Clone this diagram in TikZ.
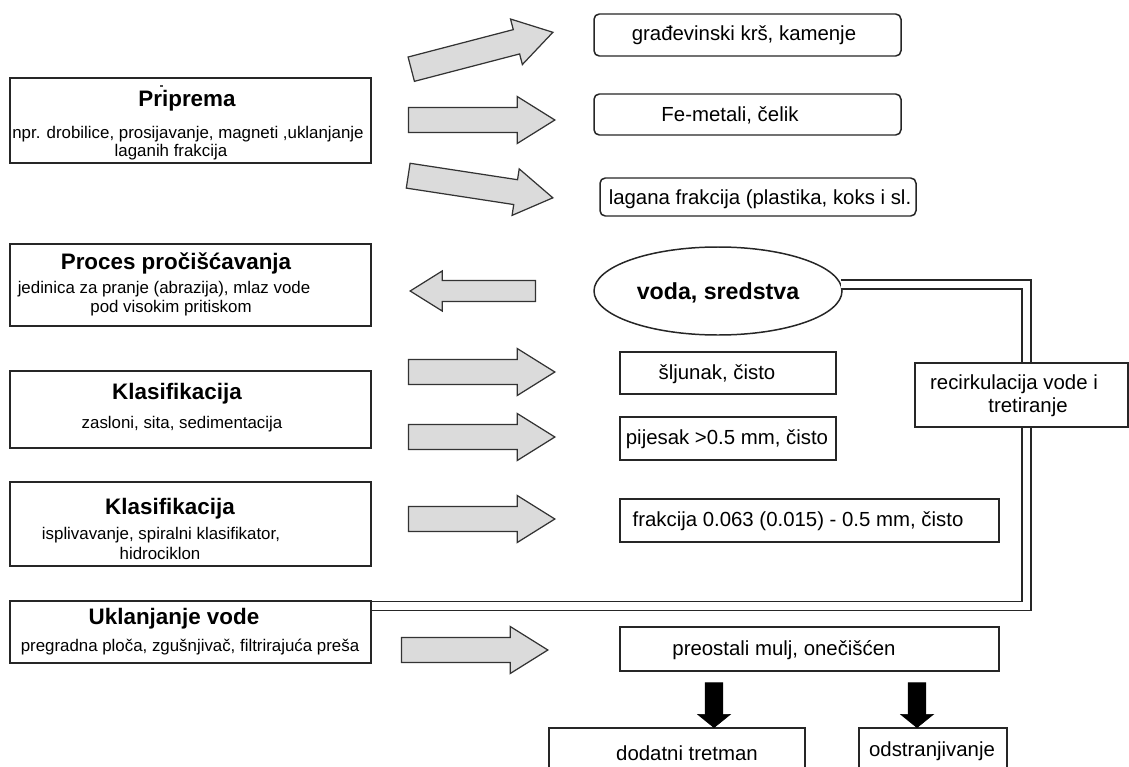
\documentclass[tikz,border=0pt]{standalone}
\usepackage{fontspec}
\setmainfont{Liberation Sans}
\usetikzlibrary{shapes.geometric, shapes.arrows, positioning, calc}
\newlength\pxu
\setlength\pxu{0.02cm}

\begin{document}
\begin{tikzpicture}[x=1\pxu, y=-1\pxu,
  box/.style={draw=black!85, line width=0.85pt, fill=white, inner sep=0pt},
  rbox/.style={box, rounded corners=3pt},
  ttl/.style={font=\fontsize{12.75}{15}\selectfont\bfseries, inner sep=0pt, text height=9.1pt, text depth=0pt},
  sub/.style={font=\fontsize{9.6}{11}\selectfont, inner sep=0pt, text height=6.9pt, text depth=0pt},
  lbl/.style={font=\fontsize{11.6}{13}\selectfont, inner sep=0pt, text height=8.3pt, text depth=0pt},
  fatarrow/.style={single arrow, draw=black!80, fill=gray!28, line width=0.7pt,
    inner xsep=0pt, inner ysep=6.8pt, text height=0pt, text depth=0pt,
    single arrow head extend=6.24pt, single arrow tip angle=64, minimum height=83.3pt, anchor=tip},
  backarrow/.style={fatarrow, inner ysep=5.67pt, single arrow head extend=5.4pt, minimum height=71.4pt, rotate=180},
  downarrow/.style={single arrow, draw=black, fill=black, inner xsep=0pt, inner ysep=4.8pt,
    text height=0pt, text depth=0pt, single arrow head extend=4.25pt, single arrow tip angle=102,
    minimum height=25.5pt, anchor=tip, rotate=-90},
  recirc/.style={draw=black!85, line width=0.85pt, double=white, double distance=4.25pt}
]
  \useasboundingbox (0,0) rectangle (1129,767);

  \node[box, minimum width=361\pxu, minimum height=85\pxu] (prip) at (190.5,120.5) {};
  \node[box, minimum width=361\pxu, minimum height=82\pxu] (proc) at (190.5,285) {};
  \node[box, minimum width=361\pxu, minimum height=77\pxu] (klas1) at (190.5,409.5) {};
  \node[box, minimum width=361\pxu, minimum height=84\pxu] (klas2) at (190.5,524) {};
  \node[box, minimum width=361\pxu, minimum height=62\pxu] (ukl) at (190.5,632) {};

  \fill[black!70] (159.5,85.2) rectangle (162.5,86.8);
  \node[ttl] (pripT) at (187,99) {Priprema};
  \node[sub] (pripA) at (188,132) {npr. drobilice, prosijavanje, magneti ,uklanjanje};
  \node[sub] (pripB) at (171,150) {laganih frakcija};
  \node[ttl] (procT) at (176,262) {Proces pročišćavanja};
  \node[sub] (procA) at (164,287) {jedinica za pranje (abrazija), mlaz vode};
  \node[sub] (procB) at (171,306) {pod visokim pritiskom};
  \node[ttl] (klas1T) at (177,392) {Klasifikacija};
  \node[sub] (klas1A) at (182,422) {zasloni, sita, sedimentacija};
  \node[ttl] (klas2T) at (170,507) {Klasifikacija};
  \node[sub] (klas2A) at (161,533) {isplivavanje, spiralni klasifikator,};
  \node[sub] (klas2B) at (160,553) {hidrociklon};
  \node[ttl] (uklT) at (174,617) {Uklanjanje vode};
  \node[sub] (uklA) at (190,645) {pregradna ploča, zgušnjivač, filtrirajuća preša};

  \node[rbox, minimum width=307\pxu, minimum height=42\pxu] (krs) at (747.5,35) {};
  \node[rbox, minimum width=307\pxu, minimum height=41\pxu] (fe) at (747.5,114.5) {};
  \node[rbox, minimum width=316\pxu, minimum height=38\pxu] (lag) at (758,197) {};
  \node[lbl] (krsT) at (744,33) {građevinski krš, kamenje};
  \node[lbl] (feT) at (730,114) {Fe-metali, čelik};
  \node[lbl] (lagT) at (760,197) {lagana frakcija (plastika, koks i sl.};

  \node[ellipse, draw=black!85, line width=0.85pt, inner sep=0pt, minimum width=248\pxu, minimum height=88\pxu,
    font=\fontsize{13.2}{15}\selectfont\bfseries, text height=9.4pt, text depth=0pt] (voda) at (718,291) {voda, sredstva};

  \coordinate (rbot) at (1026.5,606);
  \draw[recirc] (voda.3) -| (rbot) -- (ukl.east |- rbot);

  \node[box, minimum width=216\pxu, minimum height=42\pxu] (slj) at (728,373) {};
  \node[box, minimum width=216\pxu, minimum height=43\pxu] (pij) at (728,438.5) {};
  \node[box, minimum width=379\pxu, minimum height=43\pxu] (frak) at (809.5,520.5) {};
  \node[box, minimum width=213\pxu, minimum height=64\pxu] (rec) at (1021.5,395) {};
  \node[box, minimum width=379\pxu, minimum height=44\pxu] (preo) at (809.5,649) {};
  \node[box, minimum width=256\pxu, minimum height=47\pxu] (dod) at (677,751.5) {};
  \node[box, minimum width=148\pxu, minimum height=47\pxu] (odst) at (933,751.5) {};
  \node[lbl] (sljT) at (717,372) {šljunak, čisto};
  \node[lbl] (pijT) at (727,437) {pijesak >0.5 mm, čisto};
  \node[lbl] (frakT) at (798,519) {frakcija 0.063 (0.015) - 0.5 mm, čisto};
  \node[lbl] (recA) at (1014,382) {recirkulacija vode i};
  \node[lbl] (recB) at (1028,405) {tretiranje};
  \node[lbl] (preoT) at (784,648) {preostali mulj, onečišćen};
  \node[lbl] (dodT) at (687,753) {dodatni tretman};
  \node[lbl] (odstT) at (932,749) {odstranjivanje};

  \node[fatarrow, rotate=14.6] (a1) at (554,32) {};
  \node[fatarrow] (a2) at (556,120) {};
  \node[fatarrow, rotate=-8.7] (a3) at (554,198) {};
  \node[backarrow] (a4) at (409,291) {};
  \node[fatarrow] (a5) at (556,372) {};
  \node[fatarrow] (a6) at (556,437) {};
  \node[fatarrow] (a7) at (556,519) {};
  \node[fatarrow] (a8) at (549,650) {};
  \node[downarrow] (d1) at (714,728) {};
  \node[downarrow] (d2) at (917,728) {};
\end{tikzpicture}
\end{document}
